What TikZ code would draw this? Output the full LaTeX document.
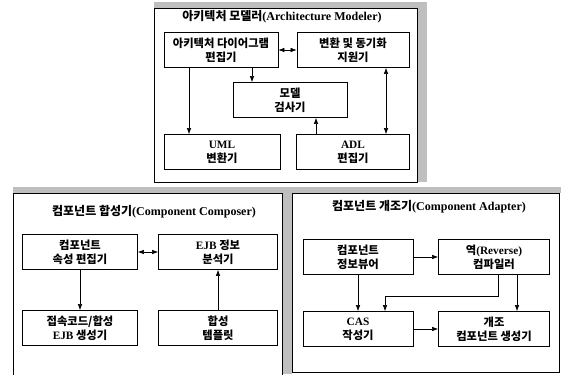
\documentclass[tikz,border=0pt]{standalone}
\usepackage{fontspec}
\setmainfont{Liberation Serif}
\newfontfamily\kr{Noto Sans CJK KR}
\usetikzlibrary{arrows.meta,calc}

\begin{document}
\begin{tikzpicture}[x=1pt,y=-1pt,
  every node/.style={font=\kr\bfseries\fontsize{11.3}{14}\selectfont},
  md/.style={draw,line width=0.8pt,minimum height=35pt,inner sep=1pt,
    align=center},
  ttl/.style={font=\kr\bfseries\fontsize{12}{14}\selectfont},
  grp/.style={draw,line width=0.8pt},
  shd/.style={fill=black!25},
  ar/.style={-{Latex[length=6pt,width=4.5pt]},line width=0.6pt},
  ar2/.style={{Latex[length=6pt,width=4.5pt]}-{Latex[length=6pt,width=4.5pt]},
    line width=0.6pt}]
\useasboundingbox (0,0) rectangle (561,374);
% shaded frames
\fill[shd] (154,2) rectangle (427,8); \fill[shd] (417,2) rectangle (427,182);
\fill[shd] (13,187) rectangle (561,193); \fill[shd] (282,187) rectangle (292,374);
\draw[grp,fill=white] (154,8) rectangle (417,182);
\draw[grp,fill=white] (13,193) rectangle (282,380);
\draw[grp,fill=white] (292,193) rectangle (559,372);
% architecture modeler
\node[ttl] (tm) at (282,17) {아키텍처 모델러{\rmfamily(Architecture Modeler)}};
\node[md,minimum width=114pt] (ade) at (221,50) {아키텍처 다이어그램\\편집기};
\node[md,minimum width=112pt] (sync) at (353,50) {변환 및 동기화\\지원기};
\node[md,minimum width=114pt] (chk) at (290,100) {모델\\검사기};
\node[md,minimum width=116pt] (uml) at (222,152) {{\rmfamily UML}\\변환기};
\node[md,minimum width=113pt] (adl) at (353,152) {{\rmfamily ADL}\\편집기};
\draw[ar2] (ade) -- (sync);
\draw[ar] ([xshift=31pt]ade.south) -- ([xshift=31pt]ade.south |- chk.north);
\draw[ar] ([xshift=-32pt]ade.south) -- ([xshift=-32pt]ade.south |- uml.north);
\draw[ar] ([xshift=-37pt]adl.north) -- ([xshift=-37pt]adl.north |- chk.south);
\draw[ar2] ([xshift=33pt]sync.south) -- ([xshift=33pt]sync.south |- adl.north);
% component composer
\node[ttl] (tc) at (154,212) {컴포넌트 합성기{\rmfamily(Component Composer)}};
\node[md,minimum width=115pt] (prop) at (80,252) {컴포넌트\\속성 편집기};
\node[md,minimum width=119pt] (ejbi) at (218,252) {{\rmfamily EJB} 정보\\분석기};
\node[md,minimum width=115pt] (gen) at (80,328) {접속코드/합성\\{\rmfamily EJB} 생성기};
\node[md,minimum width=119pt] (tpl) at (218,328) {합성\\템플릿};
\draw[ar2] (prop) -- (ejbi);
\draw[ar] (prop) -- (gen);
\draw[ar] (tpl) -- (ejbi);
% component adapter
\node[ttl] (ta) at (429,207) {컴포넌트 개조기{\rmfamily(Component Adapter)}};
\node[md,minimum width=110pt] (view) at (358,257) {컴포넌트\\정보뷰어};
\node[md,minimum width=111pt] (rev) at (494,257) {역{\rmfamily(Reverse)}\\컴파일러};
\node[md,minimum width=110pt] (cas) at (358,329) {{\rmfamily CAS}\\작성기};
\node[md,minimum width=111pt] (adapt) at (494,329) {개조\\컴포넌트 생성기};
\draw[ar] (view) -- (rev);
\draw[ar] (view) -- (cas);
\draw[ar] ([xshift=4pt]rev.south) -- ++(0,21) -| ([xshift=27pt]cas.north);
\draw[ar] ([xshift=23pt]rev.south) -- ([xshift=23pt]adapt.north);
\draw[ar] (cas) -- (adapt);
\end{tikzpicture}
\end{document}
